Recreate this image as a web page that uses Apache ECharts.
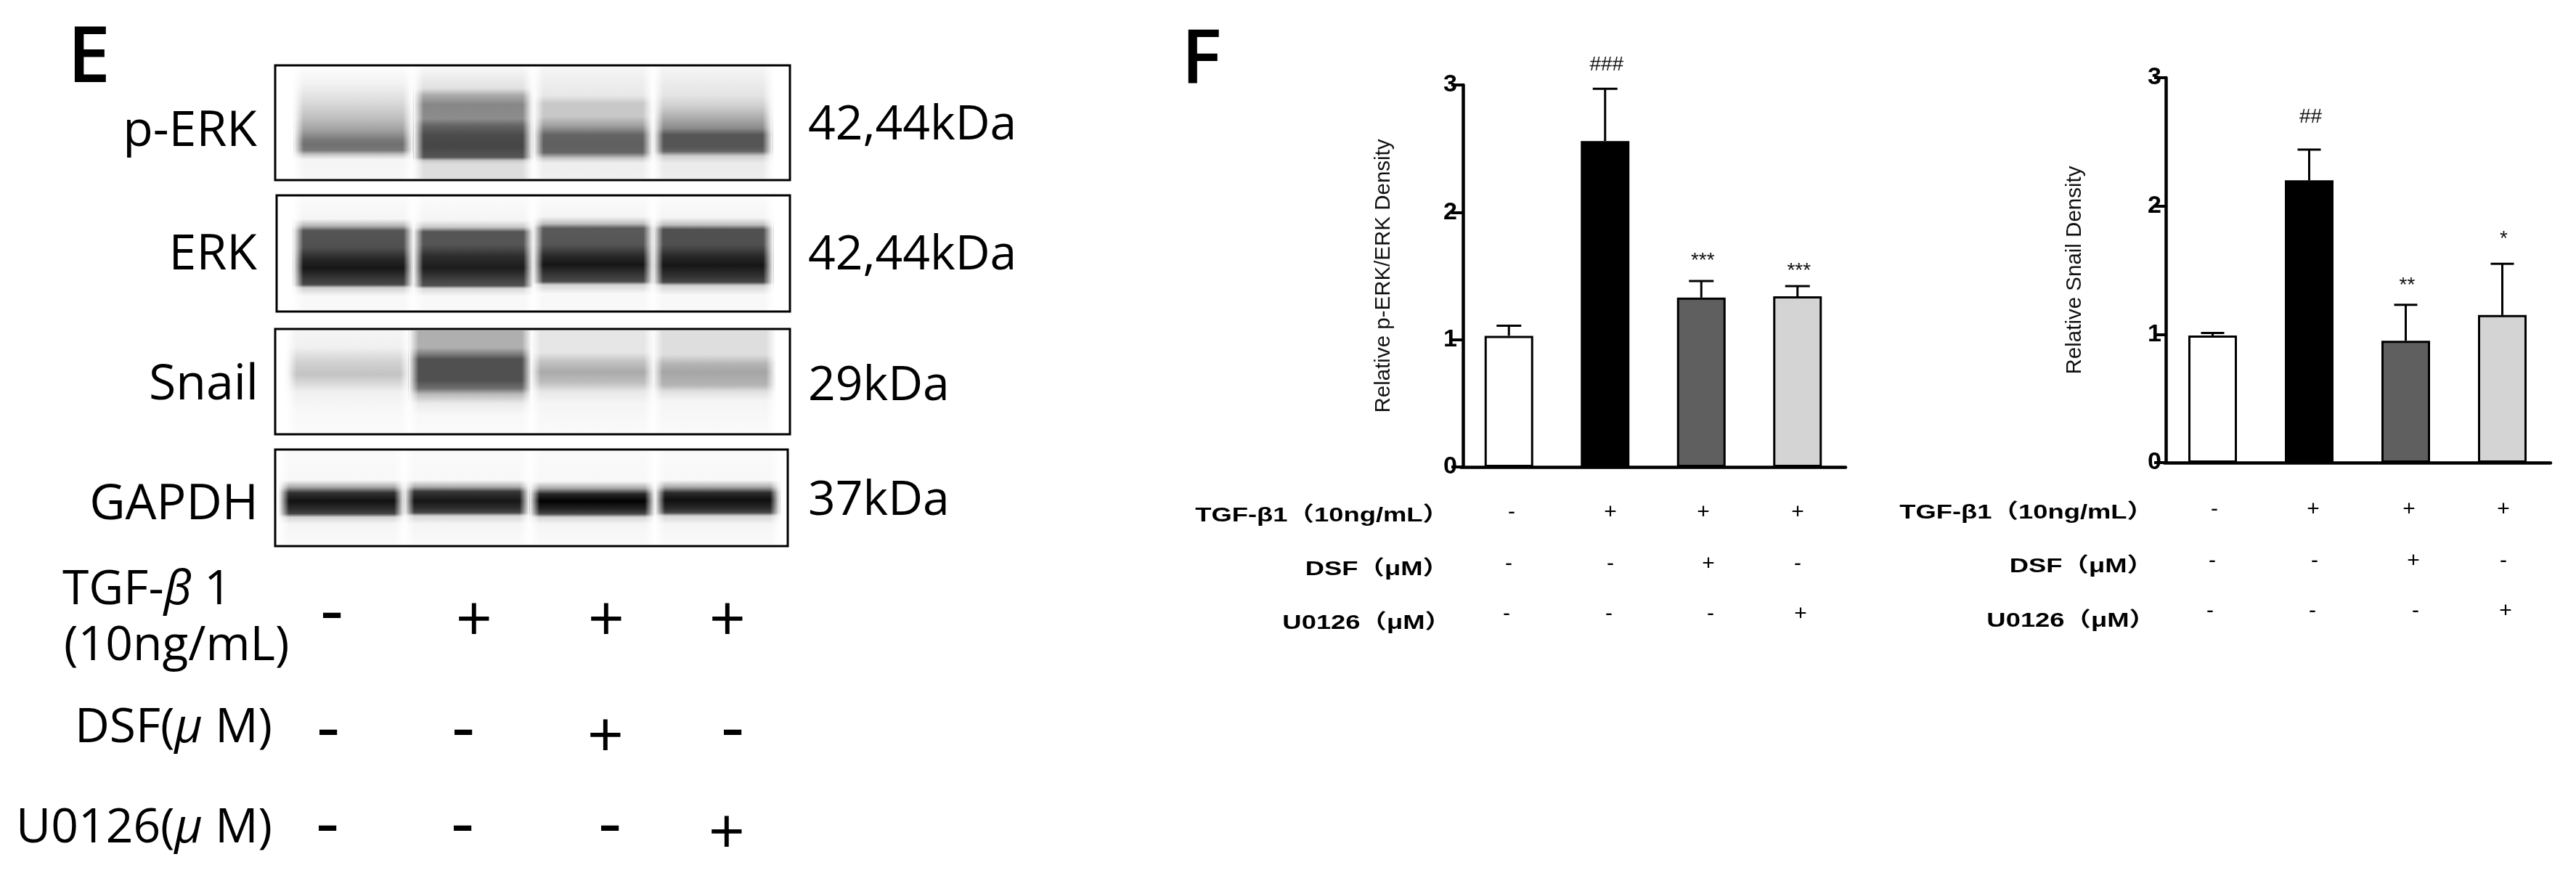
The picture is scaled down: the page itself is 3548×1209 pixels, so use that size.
<!DOCTYPE html>
<html><head><meta charset="utf-8">
<style>html,body{margin:0;padding:0;background:#fff}#c{width:3548px;height:1209px}</style>
<script src="https://cdn.jsdelivr.net/npm/echarts@6/dist/echarts.min.js"></script>
</head><body><div id="c"></div>
<script>
// ---------- DATA ----------
const groups = ['Control','TGF','TGF+DSF','TGF+U0126'];
const perkMean = [1.03,2.56,1.33,1.34];
const perkErrTop = [1.11,2.97,1.46,1.42];
const perkSig = ['','###','***','***'];
const perkSigLevel = [0,3.16,1.62,1.54];
const snailMean = [0.99,2.20,0.95,1.15];
const snailErrTop = [1.01,2.44,1.23,1.55];
const snailSig = ['','##','**','*'];
const snailSigLevel = [0,2.69,1.38,1.74];
const yTicks = [0,1,2,3];
const perkName = 'Relative p-ERK/ERK Density';
const snailName = 'Relative Snail Density';
const tgfRow = ['-','+','+','+'];
const dsfRow = ['-','-','+','-'];
const u0126Row = ['-','-','-','+'];
// Band profiles: [row inside the blot, grey level]
const blotPERK = [
 [[30,252],[100,242],[170,222],[250,190],[300,160],[340,122],[360,112],[385,120],[405,200],[425,245],[505,247]],
 [[30,248],[120,225],[150,170],[190,135],[250,140],[280,100],[320,75],[370,70],[415,85],[430,200],[445,222],[505,222]],
 [[30,245],[150,232],[185,200],[240,200],[280,160],[320,100],[360,95],[395,100],[420,200],[440,238],[505,240]],
 [[30,245],[150,228],[200,205],[250,170],[290,140],[320,85],[370,85],[390,100],[410,205],[440,235],[505,238]]
];
const blotERK = [
 [[565,251],[660,245],[690,180],[710,85],[780,80],[830,40],[870,22],[920,60],[940,70],[955,210],[990,248],[1050,248]],
 [[565,251],[665,245],[695,200],[715,85],[770,85],[820,45],[870,28],[920,65],[945,80],[958,215],[990,248],[1050,248]],
 [[565,251],[650,245],[680,190],[700,90],[770,85],[820,40],[855,22],[900,55],[928,75],[942,210],[980,248],[1050,248]],
 [[565,251],[655,245],[685,190],[705,80],[770,80],[820,40],[860,22],[905,50],[930,70],[945,210],[985,248],[1050,248]]
];
const blotSnail = [
 [[36,245],[110,240],[170,210],[225,195],[260,215],[300,240],[380,248],[476,250]],
 [[36,175],[110,175],[140,120],[160,80],[250,80],[285,110],[310,185],[350,235],[400,248],[476,250]],
 [[36,230],[130,230],[170,195],[215,170],[260,190],[300,232],[350,245],[476,250]],
 [[36,222],[140,222],[180,180],[215,165],[270,180],[300,225],[340,245],[476,250]]
];
const blotGAPDH = [
 [[535,250],[660,248],[690,170],[715,50],[750,18],[785,45],[805,70],[820,215],[850,245],[938,250]],
 [[535,250],[660,248],[690,170],[710,55],[750,22],[780,45],[800,70],[815,215],[850,245],[938,250]],
 [[535,250],[665,248],[695,170],[720,40],[750,2],[785,35],[805,70],[820,215],[850,245],[938,250]],
 [[535,250],[660,248],[690,170],[715,45],[745,15],[780,40],[800,70],[815,215],[850,245],[938,250]]
];

// ---------- LAYOUT ----------
const SANS = '"Liberation Sans","Noto Sans CJK SC"';
const OPEN = '"Open Sans","Noto Sans"';
const blots = [
 {stops:blotPERK, rows:[28,507], left:379,top:90,width:709,height:158, xr:[-0.65,3.64], hw:.455},
 {stops:blotERK, rows:[565,1050], left:381,top:269,width:707,height:160, xr:[-0.64,3.64], hw:.46},
 {stops:blotSnail, rows:[36,476], left:379,top:453,width:709,height:145, xr:[-0.6,3.62], hw:.465},
 {stops:blotGAPDH, rows:[535,938], left:379,top:619,width:706,height:133, xr:[-0.53,3.56], hw:.46}
];
const bars = [
 {mean:perkMean,top:perkErrTop,sig:perkSig,level:perkSigLevel,name:perkName,left:2012,top_:117,width:530,height:526,offset:-3,margin:8,gap:94,cap:17},
 {mean:snailMean,top:snailErrTop,sig:snailSig,level:snailSigLevel,name:snailName,left:2981,top_:107,width:532,height:530,offset:-2,margin:6,gap:110,cap:16}
];
const barFill = ['#ffffff','#000000','#5f5f5f','#d4d4d4'];

const grid=[],xAxis=[],yAxis=[],series=[];
bars.forEach((b,k)=>{
  grid.push({left:b.left,top:b.top_,width:b.width,height:b.height});
  xAxis.push({gridIndex:k,type:'category',data:groups,
    axisLine:{lineStyle:{color:'#000',width:4.5}},
    axisTick:{alignWithLabel:true,length:14,lineStyle:{color:'#000',width:4}},
    axisLabel:{show:false},splitLine:{show:false}});
  yAxis.push({gridIndex:k,type:'value',min:yTicks[0],max:yTicks[3],interval:1,offset:b.offset,
    name:b.name,nameLocation:'middle',nameGap:b.gap,nameRotate:90,
    nameTextStyle:{fontFamily:SANS,fontSize:29.5,color:'#111'},
    axisLine:{show:true,lineStyle:{color:'#000',width:4.5}},
    axisTick:{show:true,length:16,lineStyle:{color:'#000',width:4}},
    axisLabel:{margin:b.margin,fontFamily:SANS,fontWeight:'bold',fontSize:34,color:'#000'},
    splitLine:{show:false}});
  series.push({type:'bar',xAxisIndex:k,yAxisIndex:k,barWidth:67,silent:true,
    data:b.mean.map((v,i)=>({value:v,itemStyle:{color:barFill[i],borderColor:'#000',borderWidth:3}}))});
  series.push({type:'custom',xAxisIndex:k,yAxisIndex:k,silent:true,z:4,
    encode:{x:0,y:1},
    data:b.mean.map((v,i)=>[i,b.top[i],v,b.level[i]]),
    renderItem:(p,api)=>{
      const i=api.value(0);
      const t=api.coord([i,api.value(1)]), m=api.coord([i,api.value(2)]), s=api.coord([i,api.value(3)]);
      const ls={stroke:'#000',lineWidth:3};
      const ch=[
        {type:'line',shape:{x1:t[0],y1:t[1],x2:m[0],y2:m[1]},style:ls},
        {type:'line',shape:{x1:t[0]-b.cap,y1:t[1],x2:t[0]+b.cap,y2:t[1]},style:ls}
      ];
      if(b.sig[i]) ch.push({type:'text',style:{text:b.sig[i],x:s[0]+2,y:s[1],align:'center',verticalAlign:'middle',
        fontFamily:SANS,fontSize:28,fill:'#111'}});
      return {type:'group',children:ch};
    }});
});
blots.forEach((bl,j)=>{
  const k=j+2;
  grid.push({left:bl.left,top:bl.top,width:bl.width,height:bl.height,show:true,borderColor:'#000',borderWidth:3,backgroundColor:'#fff'});
  xAxis.push({gridIndex:k,type:'value',min:bl.xr[0],max:bl.xr[1],show:false});
  yAxis.push({gridIndex:k,type:'value',min:0,max:1,inverse:true,show:false});
  series.push({type:'custom',xAxisIndex:k,yAxisIndex:k,silent:true,z:2,
    data:bl.stops.map((s,i)=>[i,0.5]),
    renderItem:(p,api)=>{
      const i=api.value(0);
      const a=api.coord([i-bl.hw,0]), c=api.coord([i+bl.hw,1]);
      const y0=a[1]+2, h=c[1]-a[1]-4, x0=a[0], x1=c[0];
      const span=bl.rows[1]-bl.rows[0];
      const stops=bl.stops[i].map(([r,g])=>({offset:Math.min(1,Math.max(0,(r-bl.rows[0])/span)),color:`rgb(${g},${g},${g})`}));
      const LG=echarts.graphic.LinearGradient, e=7;
      return {type:'group',children:[
        {type:'rect',shape:{x:x0-e,y:y0,width:x1-x0+2*e,height:h},style:{fill:new LG(0,0,0,1,stops)}},
        {type:'rect',shape:{x:x0-e,y:y0,width:2*e,height:h},style:{fill:new LG(0,0,1,0,[{offset:0,color:'rgba(255,255,255,1)'},{offset:1,color:'rgba(255,255,255,0)'}])}},
        {type:'rect',shape:{x:x1-e,y:y0,width:2*e,height:h},style:{fill:new LG(0,0,1,0,[{offset:0,color:'rgba(255,255,255,0)'},{offset:1,color:'rgba(255,255,255,1)'}])}}
      ]};
    }});
});

// ---------- TEXT ----------
const gfx=[];
function txt(text,x,y,o){o=o||{};
  gfx.push({type:'text',x:x,y:y,scaleX:o.sx||1,silent:true,style:{text:text,align:o.align||'center',verticalAlign:'middle',
    fontFamily:o.font||OPEN,fontSize:o.size||66,fontWeight:o.weight||'normal',fontStyle:o.style||'normal',fill:'#000',rich:o.rich}});
}
txt('E',93,83,{align:'left',size:106,weight:600});
txt('F',1627,84,{align:'left',size:104,weight:600});
[['p-ERK',354,182],['ERK',354,352],['Snail',356,531],['GAPDH',356,696]].forEach(r=>txt(r[0],r[1],r[2],{align:'right',size:68}));
[['42,44kDa',173],['42,44kDa',352],['29kDa',532],['37kDa',690]].forEach(r=>txt(r[0],1113,r[1],{align:'left',size:66}));
const ital={it:{fontFamily:OPEN,fontSize:66,fontStyle:'italic'}};
txt('TGF-{it|β} 1',86,813,{align:'left',rich:ital});
txt('(10ng/mL)',88,890,{align:'left'});
txt('DSF({it|μ} M)',375,1003,{align:'right',rich:ital});
txt('U0126({it|μ} M)',375,1141,{align:'right',rich:ital});
function mark(sym,x,yPlus,yMinus){ if(sym==='+') txt(sym,x,yPlus,{size:88}); else txt(sym,x,yMinus,{size:100}); }
[[tgfRow,[457,653,835,1002],858,846],[dsfRow,[452,638,834,1009],1018,1007],[u0126Row,[451,637,840,1001],1151,1139]]
 .forEach(r=>r[0].forEach((s,i)=>mark(s,r[1][i],r[2],r[3])));
const rowOpt={align:'right',font:SANS,weight:'bold',size:28,sx:1.3};
[[1996,710,784,858],[2966,706,780,855]].forEach(a=>{
  txt('TGF-β1（10ng/mL）',a[0],a[1],rowOpt);
  txt('DSF（μM）',a[0],a[2],rowOpt);
  txt('U0126（μM）',a[0]+3,a[3],rowOpt);
});
[[[tgfRow,[2082,2218,2346,2476],706],[dsfRow,[2078,2218,2353,2476],777],[u0126Row,[2075,2216,2356,2480],846]],
 [[tgfRow,[3050,3186,3318,3448],702],[dsfRow,[3047,3188,3324,3448],773],[u0126Row,[3044,3185,3327,3451],842]]]
 .forEach(tb=>tb.forEach(r=>r[0].forEach((s,i)=>txt(s,r[1][i],r[2],{font:SANS,size:30}))));

const chart=echarts.init(document.getElementById('c'),null,{renderer:'canvas',width:3548,height:1209});
chart.setOption({animation:false,backgroundColor:'#fff',tooltip:{show:false},grid,xAxis,yAxis,series,graphic:{elements:gfx}});
</script></body></html>
